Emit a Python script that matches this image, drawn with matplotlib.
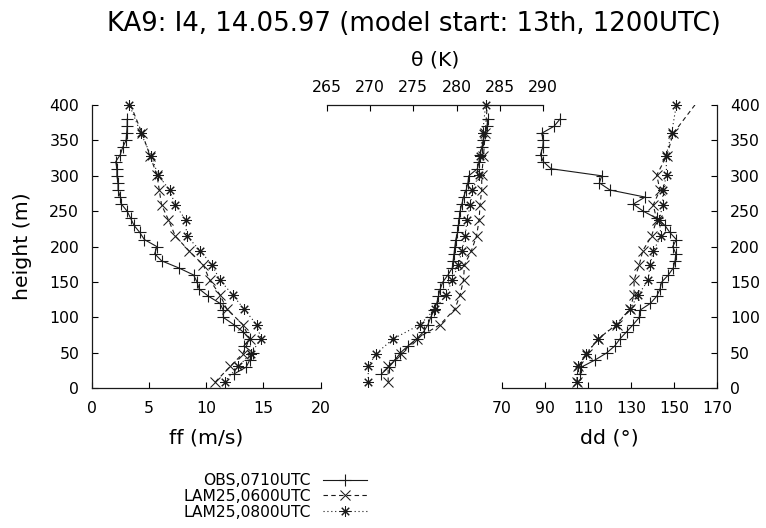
import matplotlib
matplotlib.use('Agg')
import matplotlib.pyplot as plt
import matplotlib.transforms as mtransforms

plt.rcParams['font.family'] = ['DejaVu Sans']

title = "KA9: I4, 14.05.97 (model start: 13th, 1200UTC)"
series_labels = ["OBS,0710UTC", "LAM25,0600UTC", "LAM25,0800UTC"]

# observations (heights in m)
z_obs = [20, 30, 40, 50, 60, 70, 80, 90, 100, 110, 120, 130, 140, 150, 160, 170, 180, 190,
         200, 210, 220, 230, 240, 250, 260, 270, 280, 290, 300, 310, 320, 330, 340, 350,
         360, 370, 380]
ff_obs = [12.4, 13.5, 13.8, 14.1, 13.3, 13.8, 13.2, 12.4, 11.5, 11.5, 11.2, 10.2, 9.4, 9.2,
          8.9, 7.6, 6.1, 5.5, 5.7, 4.6, 4.2, 3.7, 3.4, 3.1, 2.6, 2.5, 2.3, 2.3, 2.2, 2.2,
          2.1, 2.5, 2.7, 3.0, 3.05, 3.1, 3.1]
theta_obs = [271.3, 272.2, 272.9, 273.5, 274.4, 275.4, 276.2, 276.7, 277.0, 277.4, 277.7,
             277.9, 278.1, 278.4, 279.0, 279.5, 279.6, 279.7, 279.8, 279.9, 280.1, 280.2,
             280.3, 280.4, 280.6, 280.8, 281.1, 281.3, 281.4, 282.4, 282.6, 282.7, 282.9,
             283.1, 283.3, 283.5, 283.6]
dd_obs = [106.3, 107.0, 113.3, 118.7, 122.5, 124.9, 128.0, 131.0, 133.8, 134.0, 139.0,
          141.9, 143.4, 144.2, 147.3, 149.6, 150.4, 150.8, 149.3, 151.0, 148.0, 145.7,
          141.9, 135.7, 131.0, 136.5, 120.2, 115.3, 116.4, 92.9, 89.3, 88.0, 89.0, 89.3,
          88.5, 94.3, 97.0]

# model levels (m); the 0600 run's top level lies just above the plotted range
z_0600 = [9, 31, 49, 70, 90, 112, 132, 153, 174, 194, 215, 238, 259, 280, 301, 328, 360, 410]
ff_0600 = [10.8, 12.1, 13.2, 13.8, 13.2, 11.8, 11.2, 10.3, 9.75, 8.5, 7.3, 6.7, 6.1, 5.9,
           5.7, 5.1, 4.4, 3.15]
theta_0600 = [272.1, 272.1, 273.6, 275.4, 278.1, 279.8, 280.4, 280.8, 280.9, 281.7, 282.3,
              282.6, 282.7, 282.9, 282.9, 283.1, 283.3, 283.6]
dd_0600 = [104.8, 105.5, 109.4, 114.8, 123.3, 129.5, 131.4, 131.4, 133.8, 135.4, 139.5,
           141.9, 140.3, 143.4, 141.9, 146.5, 149.6, 162.1]

z_0800 = [9, 31, 49, 70, 90, 112, 132, 153, 174, 194, 215, 238, 259, 280, 301, 328, 360, 400]
ff_0800 = [11.6, 12.8, 13.9, 14.8, 14.4, 13.3, 12.3, 11.2, 10.5, 9.5, 8.3, 8.2, 7.3, 6.8,
           5.8, 5.2, 4.3, 3.3]
theta_0800 = [269.8, 269.8, 270.7, 272.7, 275.8, 277.5, 278.8, 279.5, 280.2, 280.6, 281.0,
              281.2, 281.6, 281.8, 282.6, 282.7, 283.0, 283.35]
dd_0800 = [104.8, 105.5, 109.1, 114.8, 123.0, 129.5, 133.4, 138.0, 138.8, 140.3, 143.9,
           143.1, 144.7, 144.7, 146.5, 146.2, 148.8, 151.0]

ff_ticks = [0, 5, 10, 15, 20]
theta_ticks = [265, 270, 275, 280, 285, 290]
dd_ticks = [70, 90, 110, 130, 150, 170]
height_ticks = [0, 50, 100, 150, 200, 250, 300, 350, 400]

W, H = 766, 528
fig = plt.figure(figsize=(W / 100, H / 100), dpi=100)
L, R, T, B = 91.7, 717.3, 105.0, 388.3
ax = fig.add_axes([L / W, 1 - B / H, (R - L) / W, (B - T) / H])
ax.patch.set_visible(False)
ax_t = ax.twiny()
ax_d = ax.twiny()
ax_d.xaxis.tick_bottom()
ax_d.xaxis.set_label_position('bottom')

ax.set_ylim(0, 400)
ax.set_xlim(0, 54.64)
ax_t.set_xlim(237.88, 310.09)
ax_d.set_xlim(-120.17, 170)

col = '#1a1a1a'
lw = 0.8
tick_fs = 11.3
lab_fs = 14.7

for a in (ax, ax_t, ax_d):
    for s in a.spines.values():
        s.set_visible(False)
        s.set_linewidth(0.9)
        s.set_color(col)

ax.spines['left'].set_visible(True)
ax.spines['right'].set_visible(True)
ax.spines['bottom'].set_visible(True)
ax.spines['bottom'].set_bounds(0, 20)
ax_t.spines['top'].set_visible(True)
ax_t.spines['top'].set_bounds(265, 290)
ax_d.spines['bottom'].set_visible(True)
ax_d.spines['bottom'].set_bounds(70, 170)

ax.set_xticks(ff_ticks)
ax.set_yticks(height_ticks)
ax_t.set_xticks(theta_ticks)
ax_d.set_xticks(dd_ticks)

ax.tick_params(axis='x', direction='in', length=4, width=0.8, pad=9.5,
               labelsize=tick_fs, top=False)
ax.tick_params(axis='y', direction='in', length=4, width=0.8, left=True, right=True,
               labelleft=True, labelright=True, labelsize=tick_fs, pad=9.0)
ax_t.tick_params(axis='x', direction='in', length=4, width=0.8, pad=7.2,
                 labelsize=tick_fs, bottom=False, top=True)
ax_d.tick_params(axis='x', direction='in', length=4, width=0.8, pad=9.5,
                 labelsize=tick_fs, top=False, bottom=True)

obs_kw = dict(color=col, lw=lw, ls='-', marker='+', ms=9, mew=0.8, clip_on=False)
l06_kw = dict(color=col, lw=lw, ls=(0, (4, 3)), marker='x', ms=7.2, mew=0.75, clip_on=True)
l08_kw = dict(color=col, lw=lw, ls=(0, (1, 2.5)), marker=(8, 2, 0), ms=7.5, mew=0.75,
              clip_on=False)

h1, = ax.plot(ff_obs, z_obs, **obs_kw)
h2, = ax.plot(ff_0600, z_0600, **l06_kw)
h3, = ax.plot(ff_0800, z_0800, **l08_kw)
ax_t.plot(theta_obs, z_obs, **obs_kw)
ax_t.plot(theta_0600, z_0600, **l06_kw)
ax_t.plot(theta_0800, z_0800, **l08_kw)
ax_d.plot(dd_obs, z_obs, **obs_kw)
ax_d.plot(dd_0600, z_0600, **l06_kw)
ax_d.plot(dd_0800, z_0800, **l08_kw)

ax.set_xlabel('ff (m/s)', fontsize=lab_fs)
ax.xaxis.set_label_coords(10, (B - 429) / (B - T),
                          transform=mtransforms.blended_transform_factory(ax.transData, ax.transAxes))
ax_d.set_xlabel('dd (°)', fontsize=lab_fs)
ax_d.xaxis.set_label_coords(120, (B - 429) / (B - T),
                            transform=mtransforms.blended_transform_factory(ax_d.transData, ax_d.transAxes))
ax_t.set_xlabel('θ (K)', fontsize=lab_fs)
ax_t.xaxis.set_label_coords(277.5, (B - 65) / (B - T),
                            transform=mtransforms.blended_transform_factory(ax_t.transData, ax_t.transAxes))
ax.set_ylabel('height (m)', fontsize=lab_fs)
ax.yaxis.set_label_coords((31.7 - L) / (R - L), 0.5)

fig.text(414 / W, 1 - 31 / H, title, ha='center', va='baseline', fontsize=18.7)

leg = fig.legend([h1, h2, h3], series_labels, loc='upper right',
                 bbox_to_anchor=(367 / W, 1 - 473 / H), frameon=False, markerfirst=False,
                 fontsize=11.2, handlelength=2.8, handletextpad=0.8, labelspacing=0.05,
                 borderpad=0, borderaxespad=0, numpoints=1)

fig.savefig('out.png', dpi=100, facecolor='white')
